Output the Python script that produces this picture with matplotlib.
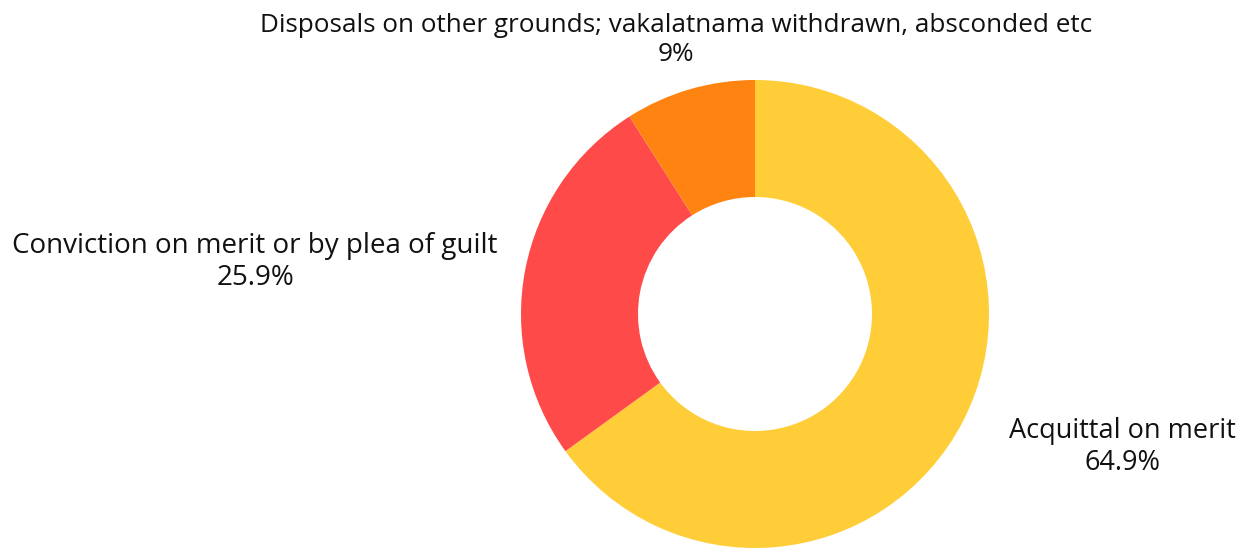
import matplotlib.pyplot as plt

# data
labels = ['Acquittal on merit', 'Conviction on merit or by plea of guilt',
          'Disposals on other grounds; vakalatnama withdrawn, absconded etc']
values = [64.9, 25.9, 9]
pct_text = ['64.9%', '25.9%', '9%']
colors = ['#FFCD38', '#FF4A4A', '#FF8311']

W, H = 1248, 548
fig = plt.figure(figsize=(W / 100, H / 100), dpi=100)
plt.rcParams['font.family'] = ['Open Sans', 'DejaVu Sans']

# donut centred at (755, 314) px, radius 234 px
cx, cy, r = 755, 314, 234
ax = fig.add_axes([(cx - r) / W, (H - cy - r) / H, 2 * r / W, 2 * r / H])
ax.pie(values, colors=colors, startangle=90, counterclock=False,
       radius=1, wedgeprops=dict(width=0.5, edgecolor='none'))
ax.set_xlim(-1, 1)
ax.set_ylim(-1, 1)
ax.set_aspect('equal')
ax.axis('off')

# label positions (px, centre of two-line block), font size per label
label_pos = [(1122, 447), (255, 262), (676, 40)]
sizes = [19.5, 20, 18.8]
for lab, pct, (x, y), fs in zip(labels, pct_text, label_pos, sizes):
    fig.text(x / W, 1 - y / H, lab + '\n' + pct, ha='center', va='center',
             fontsize=fs, color='#111111', linespacing=1.2)

fig.savefig('out.png', dpi=100)
